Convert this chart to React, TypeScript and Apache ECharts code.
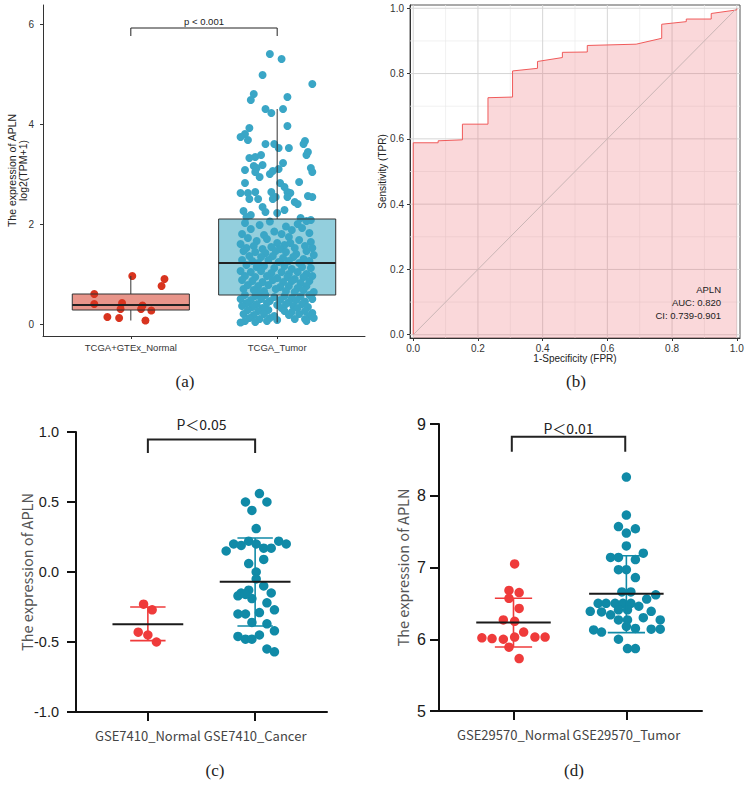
import React, { useEffect, useRef } from "react";
import * as echarts from "echarts";

// ---------- Panel (a): TCGA boxplot ----------
const catsA = ["TCGA+GTEx_Normal", "TCGA_Tumor"];
// [low whisker, Q1, median, Q3, high whisker]
const boxStatsA = [
  [0.07, 0.28, 0.38, 0.6, 0.96],
  [0.03, 0.58, 1.22, 2.1, 4.3],
];
// [jitter offset, value]
const normalPtsA = [
  [-0.25, 0.6], [-0.25, 0.4], [-0.16, 0.14], [-0.08, 0.12], [-0.07, 0.3], [-0.06, 0.42],
  [0.01, 0.96], [0.08, 0.37], [0.07, 0.3], [0.14, 0.27], [0.1, 0.07], [0.21, 0.76], [0.23, 0.9],
];
const tumorPtsA = [
  [-0.05, 5.4], [0.03, 5.3], [-0.1, 4.98], [0.24, 4.8], [-0.16, 4.6], [-0.18, 4.48], [0.07, 4.54],
  [-0.08, 4.3], [-0.04, 4.22], [0.04, 4.3], [0.07, 3.96], [-0.19, 3.92], [-0.22, 3.8], [-0.25, 3.74],
  [-0.2, 3.68], [-0.08, 3.6], [-0.02, 3.6], [0.01, 3.52], [0.08, 3.52], [0.19, 3.66], [0.18, 3.6],
  [0.21, 3.44], [0.2, 3.38], [-0.15, 3.34], [-0.19, 3.32], [-0.11, 3.38], [-0.1, 3.18], [-0.16, 3.16],
  [-0.14, 3.12], [-0.22, 3.08], [-0.15, 3.04], [-0.12, 2.94], [-0.05, 3.0], [-0.03, 3.06], [0.01, 3.1],
  [0.04, 3.22], [0.23, 3.12], [0.24, 3.04], [-0.22, 2.82], [0.02, 2.82], [0.05, 2.74], [0.15, 2.84],
  [-0.25, 2.62], [-0.2, 2.62], [-0.15, 2.64], [-0.04, 2.64], [-0.01, 2.54], [0.07, 2.64], [0.09, 2.62],
  [-0.19, 2.5], [-0.13, 2.5], [-0.03, 2.5], [0.07, 2.54], [0.12, 2.44], [0.14, 2.4], [0.21, 2.56],
  [0.24, 2.54], [-0.1, 2.34], [-0.08, 2.24], [-0.23, 2.26], [-0.18, 2.18], [-0.21, 2.14], [0.0, 2.22],
  [0.05, 2.28], [0.16, 2.12], [0.23, 2.08],
  [-0.22, 2.02], [-0.12, 1.98], [-0.05, 2.05], [0.06, 1.95], [0.14, 2.0], [0.2, 2.06], [-0.18, 1.9],
  [0.1, 1.88], [-0.02, 1.85], [0.22, 1.82], [-0.24, 1.8], [0.03, 1.8], [-0.09, 1.78], [0.17, 1.92],
  [-0.2, 1.72], [-0.14, 1.66], [-0.07, 1.7], [0.0, 1.62], [0.08, 1.74], [0.15, 1.68], [0.23, 1.64],
  [-0.25, 1.6], [-0.16, 1.56], [-0.04, 1.54], [0.05, 1.58], [0.12, 1.52], [0.19, 1.56], [-0.1, 1.5],
  [0.02, 1.5], [0.24, 1.52], [-0.21, 1.52], [0.09, 1.62],
  [-0.23, 1.46], [-0.15, 1.44], [-0.08, 1.42], [-0.01, 1.46], [0.06, 1.44], [0.13, 1.4], [0.2, 1.46],
  [-0.19, 1.36], [-0.11, 1.34], [-0.03, 1.36], [0.04, 1.32], [0.11, 1.34], [0.18, 1.3], [0.25, 1.38],
  [-0.24, 1.28], [-0.17, 1.26], [-0.06, 1.28], [0.01, 1.24], [0.08, 1.26], [0.15, 1.22], [0.22, 1.26],
  [-0.13, 1.22],
  [-0.21, 1.18], [-0.14, 1.14], [-0.09, 1.16], [-0.02, 1.12], [0.05, 1.16], [0.1, 1.1], [0.17, 1.14],
  [0.23, 1.12], [-0.25, 1.06], [-0.18, 1.04], [-0.11, 1.06], [-0.04, 1.02], [0.03, 1.04], [0.08, 1.0],
  [0.14, 1.04], [0.2, 1.0], [-0.22, 0.96], [-0.15, 0.94], [-0.07, 0.96], [0.0, 0.92], [0.07, 0.94],
  [0.12, 0.9], [0.18, 0.94], [0.24, 0.96],
  [-0.24, 0.88], [-0.17, 0.86], [-0.1, 0.84], [-0.03, 0.88], [0.04, 0.84], [0.1, 0.86], [0.16, 0.82],
  [0.22, 0.86], [-0.2, 0.78], [-0.13, 0.76], [-0.06, 0.78], [0.02, 0.74], [0.08, 0.76], [0.14, 0.72],
  [0.2, 0.76], [-0.23, 0.7], [-0.16, 0.68], [-0.09, 0.66], [-0.01, 0.7], [0.06, 0.66], [0.12, 0.64],
  [0.18, 0.68], [0.25, 0.64], [-0.12, 0.62],
  [-0.22, 0.58], [-0.15, 0.56], [-0.08, 0.58], [-0.02, 0.54], [0.05, 0.56], [0.1, 0.52], [0.16, 0.55],
  [0.22, 0.58], [-0.25, 0.5], [-0.18, 0.48], [-0.11, 0.5], [-0.05, 0.46], [0.02, 0.48], [0.08, 0.44],
  [0.13, 0.48], [0.19, 0.45], [0.24, 0.5], [-0.21, 0.42], [-0.14, 0.4], [-0.07, 0.42], [0.0, 0.38],
  [0.06, 0.4], [0.11, 0.36], [0.17, 0.4], [-0.24, 0.36], [-0.17, 0.34], [-0.1, 0.32], [0.03, 0.32],
  [0.14, 0.32], [0.21, 0.34],
  [-0.2, 0.28], [-0.13, 0.26], [-0.06, 0.28], [0.05, 0.26], [0.1, 0.24], [0.19, 0.26], [0.24, 0.22],
  [-0.23, 0.2], [-0.16, 0.18], [-0.09, 0.2], [-0.02, 0.16], [0.08, 0.18], [0.15, 0.2], [0.22, 0.16],
  [-0.19, 0.12], [-0.12, 0.1], [-0.05, 0.12], [0.12, 0.1], [0.19, 0.1], [-0.22, 0.06], [-0.15, 0.04],
  [0.0, 0.08], [0.2, 0.06], [-0.25, 0.03], [0.25, 0.12], [-0.07, 0.06],
];
const ticksA = [0, 2, 4, 6];

// ---------- Panel (b): ROC ----------
const rocFPR = [0, 0, 0.077, 0.077, 0.152, 0.152, 0.231, 0.231, 0.307, 0.307, 0.384, 0.384, 0.461, 0.461, 0.538, 0.538, 0.689, 0.768, 0.768, 0.844, 0.844, 0.921, 0.921, 1.0, 1.0];
const rocTPR = [0, 0.588, 0.588, 0.594, 0.597, 0.645, 0.645, 0.726, 0.728, 0.808, 0.816, 0.837, 0.849, 0.865, 0.866, 0.886, 0.89, 0.908, 0.951, 0.959, 0.967, 0.967, 0.984, 0.995, 1.0];
const ticksB = [0, 0.2, 0.4, 0.6, 0.8, 1.0];
const gridMajorB = [0, 0.2, 0.4, 0.6, 0.8, 1.0];
const gridMinorB = [0.1, 0.3, 0.5, 0.7, 0.9];
const rocText = ["APLN", "AUC: 0.820", "CI: 0.739-0.901"];

// ---------- Panel (c): GSE7410 ----------
const catsC = ["GSE7410_Normal", "GSE7410_Cancer"];
const normalPtsC = [[-0.04, -0.23], [0.04, -0.27], [-0.09, -0.43], [0.0, -0.45], [0.08, -0.5]];
const cancerPtsC = [
  [0.04, 0.56], [-0.09, 0.5], [0.11, 0.5], [-0.03, 0.44], [0.01, 0.31],
  [-0.27, 0.15], [-0.2, 0.2], [-0.13, 0.19], [-0.06, 0.22], [0.01, 0.2], [0.08, 0.17], [0.15, 0.17],
  [0.22, 0.22], [0.29, 0.2], [-0.06, 0.06], [0.08, 0.09], [0.01, 0.0], [0.01, -0.05], [0.08, -0.1],
  [0.15, -0.15], [-0.06, -0.13], [-0.13, -0.15], [-0.16, -0.17], [-0.03, -0.19], [-0.09, -0.16],
  [0.11, -0.22], [0.18, -0.27], [0.04, -0.29], [-0.16, -0.3], [-0.09, -0.3], [-0.03, -0.36],
  [0.11, -0.37], [0.18, -0.42], [-0.16, -0.46], [-0.09, -0.48], [-0.03, -0.48], [0.04, -0.45],
  [0.11, -0.55], [0.18, -0.57],
];
// [mean, lower bar, upper bar]
const summaryC = [[-0.374, -0.49, -0.25], [-0.069, -0.386, 0.243]];

// ---------- Panel (d): GSE29570 ----------
const catsD = ["GSE29570_Normal", "GSE29570_Tumor"];
const normalPtsD = [
  [0.01, 7.05], [-0.04, 6.68], [0.05, 6.65], [-0.04, 6.57], [0.05, 6.43], [-0.09, 6.27], [0.01, 6.25],
  [0.09, 6.1], [-0.28, 6.02], [-0.19, 6.01], [-0.09, 6.0], [0.01, 6.03], [0.19, 6.03], [0.28, 6.03],
  [-0.04, 5.89], [0.05, 5.73],
];
const tumorPtsD = [
  [0, 8.26], [0, 7.73], [-0.07, 7.57], [0.08, 7.54], [0, 7.48], [0, 7.3], [0.15, 7.2], [-0.14, 7.14],
  [-0.07, 7.14], [0.08, 7.11], [-0.07, 6.97], [0, 6.97], [0.08, 6.86], [-0.04, 6.66], [0.04, 6.66],
  [0.26, 6.62], [0.18, 6.56], [-0.25, 6.5], [-0.18, 6.5], [-0.1, 6.5], [-0.03, 6.5], [0.04, 6.5],
  [0.11, 6.46], [-0.32, 6.39], [-0.22, 6.38], [-0.14, 6.34], [-0.07, 6.41], [0.01, 6.41], [0.22, 6.39],
  [-0.07, 6.27], [0.01, 6.27], [0.15, 6.3], [0.3, 6.27], [-0.29, 6.13], [-0.22, 6.1], [0, 6.18],
  [0.08, 6.15], [0.22, 6.14], [0.3, 6.14], [-0.07, 6.0], [0.01, 5.87], [0.08, 5.87],
];
const summaryD = [[6.233, 5.893, 6.572], [6.633, 6.093, 7.163]];

// ---------- styles ----------
const SANS = "'Liberation Sans', Arial, sans-serif";
const CJK = "'Noto Sans CJK SC', 'Noto Sans', sans-serif";
const RED_A = "#d8341f";
const BLUE_A = "#3aa6c6";
const BOX_FILL = ["#e8958a", "#93cfdd"];
const BOX_HALF = 0.4;
const RED_CD = "#ef3b3b";
const TEAL_CD = "#108aa7";
const MEAN_HALF = 0.33;
const CAP_HALF = 0.165;

const toPts = (pts: number[][], cat: number) => pts.map((p) => [cat + p[0], p[1]]);

function boxLayer(kind: "fill" | "line") {
  return (params: any, api: any) => {
    const x = api.value(0);
    const lo = api.value(1), q1 = api.value(2), med = api.value(3), q3 = api.value(4), hi = api.value(5);
    const tl = api.coord([x - BOX_HALF, q3]);
    const br = api.coord([x + BOX_HALF, q1]);
    const m1 = api.coord([x - BOX_HALF, med]);
    const m2 = api.coord([x + BOX_HALF, med]);
    const wt = api.coord([x, hi]);
    const wb = api.coord([x, lo]);
    const rect = { x: tl[0], y: tl[1], width: br[0] - tl[0], height: br[1] - tl[1] };
    if (kind === "fill") {
      return { type: "rect", shape: rect, style: { fill: BOX_FILL[params.dataIndex] } };
    }
    const st = { stroke: "#333", lineWidth: 1 };
    return {
      type: "group",
      children: [
        { type: "line", shape: { x1: wt[0], y1: wt[1], x2: wt[0], y2: tl[1] }, style: st },
        { type: "line", shape: { x1: wb[0], y1: br[1], x2: wb[0], y2: wb[1] }, style: st },
        { type: "rect", shape: rect, style: { fill: "none", stroke: "#333", lineWidth: 1 } },
        { type: "line", shape: { x1: m1[0], y1: m1[1], x2: m2[0], y2: m2[1] }, style: { stroke: "#222", lineWidth: 2 } },
      ],
    };
  };
}

function bracket(label: string, font: string, fontSize: number, lw: number, textGap: number) {
  return (params: any, api: any) => {
    const x1 = api.value(0), x2 = api.value(1), b = api.value(2), t = api.value(3);
    const p1 = api.coord([x1, b]);
    const p2 = api.coord([x1, t]);
    const p3 = api.coord([x2, t]);
    const p4 = api.coord([x2, b]);
    return {
      type: "group",
      children: [
        { type: "polyline", shape: { points: [p1, p2, p3, p4] }, style: { stroke: "#222", lineWidth: lw, fill: "none" } },
        {
          type: "text",
          x: (p2[0] + p3[0]) / 2,
          y: p2[1] - textGap,
          style: { text: label, fill: "#222", fontSize, fontFamily: font, align: "center", verticalAlign: "bottom" },
        },
      ],
    };
  };
}

function meanErr(colors: string[]) {
  return (params: any, api: any) => {
    const x = api.value(0), m = api.value(1), lo = api.value(2), hi = api.value(3);
    const c = colors[params.dataIndex];
    const ml = api.coord([x - MEAN_HALF, m]);
    const mr = api.coord([x + MEAN_HALF, m]);
    const top = api.coord([x, hi]);
    const bot = api.coord([x, lo]);
    const tl = api.coord([x - CAP_HALF, hi]);
    const tr = api.coord([x + CAP_HALF, hi]);
    const bl = api.coord([x - CAP_HALF, lo]);
    const brr = api.coord([x + CAP_HALF, lo]);
    const st = { stroke: c, lineWidth: 1.6 };
    return {
      type: "group",
      children: [
        { type: "line", shape: { x1: top[0], y1: top[1], x2: bot[0], y2: bot[1] }, style: st },
        { type: "line", shape: { x1: tl[0], y1: tl[1], x2: tr[0], y2: tr[1] }, style: st },
        { type: "line", shape: { x1: bl[0], y1: bl[1], x2: brr[0], y2: brr[1] }, style: st },
        { type: "line", shape: { x1: ml[0], y1: ml[1], x2: mr[0], y2: mr[1] }, style: { stroke: "#1a1a1a", lineWidth: 2 } },
      ],
    };
  };
}

function gridLines(params: any, api: any) {
  const v = api.value(0);
  const minor = api.value(1) === 1;
  const a = api.coord([v, -0.01]);
  const b = api.coord([v, 1.01]);
  const c = api.coord([-0.01, v]);
  const d = api.coord([1.01, v]);
  const st = { stroke: minor ? "#ebebeb" : "#d6d6d6", lineWidth: minor ? 0.7 : 1 };
  return {
    type: "group",
    children: [
      { type: "line", shape: { x1: a[0], y1: a[1], x2: b[0], y2: b[1] }, style: st },
      { type: "line", shape: { x1: c[0], y1: c[1], x2: d[0], y2: d[1] }, style: st },
    ],
  };
}

function buildOption(): any {
  const axA = { color: "#333", fontSize: 9.5, fontFamily: SANS };
  const cdTick = { color: "#1a1a1a", fontSize: 14.5, fontFamily: SANS };
  const catLabel = { interval: 0, hideOverlap: false, color: "#444", fontSize: 13, fontFamily: CJK };
  return {
    animation: false,
    backgroundColor: "#fff",
    textStyle: { fontFamily: SANS },
    grid: [
      { left: 43, top: 5, width: 322, height: 331 },
      { left: 410, top: 5, width: 330, height: 333, show: true, borderColor: "#555", borderWidth: 1 },
      { left: 76, top: 432, width: 251, height: 280 },
      { left: 439, top: 424, width: 263, height: 287 },
    ],
    xAxis: [
      {
        gridIndex: 0, type: "value", min: 0.4, max: 2.6,
        axisLine: { onZero: false, lineStyle: { color: "#333", width: 1 } },
        axisTick: { customValues: [1, 2], length: 3, lineStyle: { color: "#333" } },
        axisLabel: { customValues: [1, 2], interval: 0, hideOverlap: false, formatter: (v: number) => catsA[Math.round(v) - 1], margin: 6, ...axA },
        splitLine: { show: false },
      },
      {
        gridIndex: 1, type: "value", min: -0.01, max: 1.01,
        name: "1-Specificity (FPR)", nameLocation: "middle", nameGap: 15, nameMoveOverlap: false,
        nameTextStyle: { color: "#222", fontSize: 10, fontFamily: SANS },
        axisLine: { onZero: false, lineStyle: { color: "#333", width: 1 } },
        axisTick: { customValues: ticksB, length: 3, lineStyle: { color: "#333" } },
        axisLabel: { customValues: ticksB, formatter: (v: number) => v.toFixed(1), margin: 5, color: "#333", fontSize: 10, fontFamily: SANS },
        splitLine: { show: false },
      },
      {
        gridIndex: 2, type: "value", min: 0.33, max: 2.67,
        axisLine: { onZero: false, lineStyle: { color: "#111", width: 2 } },
        axisTick: { customValues: [1, 2], length: 9, lineStyle: { color: "#111", width: 2 } },
        axisLabel: { customValues: [1, 2], formatter: (v: number) => catsC[Math.round(v) - 1], margin: 17, ...catLabel },
        splitLine: { show: false },
      },
      {
        gridIndex: 3, type: "value", min: 0.34, max: 2.67,
        axisLine: { onZero: false, lineStyle: { color: "#111", width: 2 } },
        axisTick: { customValues: [1, 2], length: 9, lineStyle: { color: "#111", width: 2 } },
        axisLabel: { customValues: [1, 2], formatter: (v: number) => catsD[Math.round(v) - 1], margin: 17, ...catLabel },
        splitLine: { show: false },
      },
    ],
    yAxis: [
      {
        gridIndex: 0, type: "value", min: -0.24, max: 6.38,
        name: "The expression of APLN\nlog2(TPM+1)", nameLocation: "middle", nameGap: 15, nameMoveOverlap: false,
        nameTextStyle: { color: "#222", fontSize: 10.5, fontFamily: SANS, lineHeight: 11 },
        axisLine: { onZero: false, lineStyle: { color: "#333", width: 1 } },
        axisTick: { customValues: ticksA, length: 3, lineStyle: { color: "#333" } },
        axisLabel: { customValues: ticksA, margin: 9, ...axA, fontSize: 10 },
        splitLine: { show: false },
      },
      {
        gridIndex: 1, type: "value", min: -0.01, max: 1.01,
        name: "Sensitivity (TPR)", nameLocation: "middle", nameGap: 23, nameMoveOverlap: false,
        nameTextStyle: { color: "#222", fontSize: 10, fontFamily: SANS },
        axisLine: { onZero: false, lineStyle: { color: "#333", width: 1 } },
        axisTick: { customValues: ticksB, length: 3, lineStyle: { color: "#333" } },
        axisLabel: { customValues: ticksB, formatter: (v: number) => v.toFixed(1), margin: 6, color: "#333", fontSize: 10, fontFamily: SANS },
        splitLine: { show: false },
      },
      {
        gridIndex: 2, type: "value", min: -1, max: 1, interval: 0.5,
        name: "The expression of APLN", nameLocation: "middle", nameGap: 42, nameMoveOverlap: false,
        nameTextStyle: { color: "#555", fontSize: 14.5, fontFamily: CJK },
        axisLine: { onZero: false, lineStyle: { color: "#111", width: 2 } },
        axisTick: { length: 9, lineStyle: { color: "#111", width: 2 } },
        axisLabel: { formatter: (v: number) => v.toFixed(1), margin: 17, ...cdTick },
        splitLine: { show: false },
      },
      {
        gridIndex: 3, type: "value", min: 5, max: 9, interval: 1,
        name: "The expression of APLN", nameLocation: "middle", nameGap: 29, nameMoveOverlap: false,
        nameTextStyle: { color: "#555", fontSize: 14.5, fontFamily: CJK },
        axisLine: { onZero: false, lineStyle: { color: "#111", width: 2 } },
        axisTick: { length: 9, lineStyle: { color: "#111", width: 2 } },
        axisLabel: { margin: 13, ...cdTick, fontSize: 16 },
        splitLine: { show: false },
      },
    ],
    graphic: [
      { type: "text", x: 185, y: 381, style: { text: "(a)", fill: "#222", fontSize: 17, fontFamily: "'Liberation Serif', serif", align: "center", verticalAlign: "middle" } },
      { type: "text", x: 576, y: 381, style: { text: "(b)", fill: "#222", fontSize: 17, fontFamily: "'Liberation Serif', serif", align: "center", verticalAlign: "middle" } },
      { type: "text", x: 215, y: 770, style: { text: "(c)", fill: "#222", fontSize: 17, fontFamily: "'Liberation Serif', serif", align: "center", verticalAlign: "middle" } },
      { type: "text", x: 574, y: 770, style: { text: "(d)", fill: "#222", fontSize: 17, fontFamily: "'Liberation Serif', serif", align: "center", verticalAlign: "middle" } },
      ...rocText.map((t, i) => ({
        type: "text", x: 721, y: 289 + i * 13, z: 10,
        style: { text: t, fill: "#222", fontSize: 9.5, fontFamily: SANS, align: "right", verticalAlign: "middle" },
      })),
    ],
    series: [
      // (a)
      { type: "custom", xAxisIndex: 0, yAxisIndex: 0, z: 1, renderItem: boxLayer("fill"),
        data: boxStatsA.map((s, i) => [i + 1, ...s]) },
      { type: "scatter", xAxisIndex: 0, yAxisIndex: 0, z: 2, symbolSize: 8, itemStyle: { color: RED_A, opacity: 1 },
        data: toPts(normalPtsA, 1) },
      { type: "scatter", xAxisIndex: 0, yAxisIndex: 0, z: 2, symbolSize: 8, itemStyle: { color: BLUE_A, opacity: 1 },
        data: toPts(tumorPtsA, 2) },
      { type: "custom", xAxisIndex: 0, yAxisIndex: 0, z: 3, renderItem: boxLayer("line"),
        data: boxStatsA.map((s, i) => [i + 1, ...s]) },
      { type: "custom", xAxisIndex: 0, yAxisIndex: 0, z: 3, clip: false,
        renderItem: bracket("p < 0.001", SANS, 9.5, 1, 2), data: [[1, 2, 5.76, 5.92]] },
      // (b)
      { type: "custom", xAxisIndex: 1, yAxisIndex: 1, z: 1, renderItem: gridLines,
        data: [...gridMinorB.map((v) => [v, 1]), ...gridMajorB.map((v) => [v, 0])] },
      { type: "line", xAxisIndex: 1, yAxisIndex: 1, z: 2, symbol: "none", showSymbol: false,
        lineStyle: { color: "#f05a5a", width: 1 },
        areaStyle: { color: "rgba(236,110,115,0.38)", origin: "start" },
        data: rocFPR.map((x, i) => [x, rocTPR[i]]) },
      { type: "line", xAxisIndex: 1, yAxisIndex: 1, z: 3, symbol: "none", showSymbol: false,
        lineStyle: { color: "#c9b5b5", width: 1 }, data: [[0, 0], [1, 1]] },
      // (c)
      { type: "scatter", xAxisIndex: 2, yAxisIndex: 2, z: 2, symbolSize: 9.5, itemStyle: { color: RED_CD, opacity: 1 },
        data: toPts(normalPtsC, 1) },
      { type: "scatter", xAxisIndex: 2, yAxisIndex: 2, z: 2, symbolSize: 9.5, itemStyle: { color: TEAL_CD, opacity: 1 },
        data: toPts(cancerPtsC, 2) },
      { type: "custom", xAxisIndex: 2, yAxisIndex: 2, z: 3, renderItem: meanErr([RED_CD, TEAL_CD]),
        data: summaryC.map((s, i) => [i + 1, ...s]) },
      { type: "custom", xAxisIndex: 2, yAxisIndex: 2, z: 3, clip: false,
        renderItem: bracket("P＜0.05", CJK, 14, 2, 9), data: [[1, 2, 0.85, 0.946]] },
      // (d)
      { type: "scatter", xAxisIndex: 3, yAxisIndex: 3, z: 2, symbolSize: 9.5, itemStyle: { color: RED_CD, opacity: 1 },
        data: toPts(normalPtsD, 1) },
      { type: "scatter", xAxisIndex: 3, yAxisIndex: 3, z: 2, symbolSize: 9.5, itemStyle: { color: TEAL_CD, opacity: 1 },
        data: toPts(tumorPtsD, 2) },
      { type: "custom", xAxisIndex: 3, yAxisIndex: 3, z: 3, renderItem: meanErr([RED_CD, TEAL_CD]),
        data: summaryD.map((s, i) => [i + 1, ...s]) },
      { type: "custom", xAxisIndex: 3, yAxisIndex: 3, z: 3, clip: false,
        renderItem: bracket("P＜0.01", CJK, 14, 2, 2), data: [[0.985, 1.99, 8.614, 8.823]] },
    ],
  };
}

export default function App() {
  const ref = useRef<HTMLDivElement>(null);
  useEffect(() => {
    if (!ref.current) return;
    const chart = echarts.init(ref.current, null, { renderer: "svg", width: 749, height: 787 });
    chart.setOption(buildOption());
    return () => chart.dispose();
  }, []);
  return (
    <div
      ref={ref}
      style={{ position: "fixed", left: 0, top: 0, width: 749, height: 787, background: "#fff" }}
    />
  );
}
